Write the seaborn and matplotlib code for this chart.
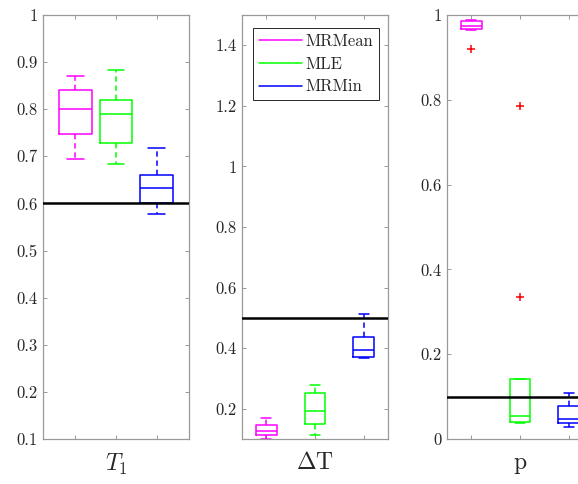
import matplotlib.pyplot as plt
from matplotlib.lines import Line2D
import seaborn as sns

sns.set_style('white')
plt.rcParams['font.family'] = ['cmr10', 'DejaVu Serif']
plt.rcParams['mathtext.fontset'] = 'cm'
plt.rcParams['axes.unicode_minus'] = False
plt.rcParams['axes.formatter.use_mathtext'] = True

# methods and their colours
methods = ['MRMean', 'MLE', 'MRMin']
colors = ['#ff00ff', '#00ff00', '#0000ff']

# T1 panel: five-number summaries
t1_lo = [0.695, 0.683, 0.577]
t1_q1 = [0.747, 0.729, 0.601]
t1_med = [0.800, 0.789, 0.633]
t1_q3 = [0.840, 0.820, 0.660]
t1_hi = [0.870, 0.883, 0.717]
t1_out = [[], [], []]
t1_true = 0.6

# Delta T panel
dt_lo = [0.099, 0.113, 0.366]
dt_q1 = [0.112, 0.150, 0.372]
dt_med = [0.128, 0.192, 0.394]
dt_q3 = [0.147, 0.252, 0.436]
dt_hi = [0.168, 0.279, 0.513]
dt_out = [[], [], []]
dt_true = 0.5

# p panel
p_lo = [0.964, 0.038, 0.029]
p_q1 = [0.966, 0.039, 0.037]
p_med = [0.975, 0.055, 0.047]
p_q3 = [0.987, 0.141, 0.078]
p_hi = [0.988, 0.141, 0.108]
p_out = [[0.920], [0.786, 0.334], []]
p_true = 0.1

panels = [
    dict(lo=t1_lo, q1=t1_q1, med=t1_med, q3=t1_q3, hi=t1_hi, out=t1_out, true=t1_true,
         label='$T_1$', ylim=(0.1, 1.0), xlim=(0.2, 3.8), width=0.8,
         yticks=[0.1, 0.2, 0.3, 0.4, 0.5, 0.6, 0.7, 0.8, 0.9, 1.0],
         yticklabels=['0.1', '0.2', '0.3', '0.4', '0.5', '0.6', '0.7', '0.8', '0.9', '1']),
    dict(lo=dt_lo, q1=dt_q1, med=dt_med, q3=dt_q3, hi=dt_hi, out=dt_out, true=dt_true,
         label=r'$\Delta$T', ylim=(0.1, 1.5), xlim=(0.5, 3.5), width=0.42,
         yticks=[0.2, 0.4, 0.6, 0.8, 1.0, 1.2, 1.4],
         yticklabels=['0.2', '0.4', '0.6', '0.8', '1', '1.2', '1.4']),
    dict(lo=p_lo, q1=p_q1, med=p_med, q3=p_q3, hi=p_hi, out=p_out, true=p_true,
         label='p', ylim=(0.0, 1.0), xlim=(0.5, 3.5), width=0.42,
         yticks=[0, 0.2, 0.4, 0.6, 0.8, 1.0],
         yticklabels=['0', '0.2', '0.4', '0.6', '0.8', '1']),
]

fig = plt.figure(figsize=(5.78, 4.84), dpi=100)
lefts = [0.0744, 0.4187, 0.7734]
axes = [fig.add_axes([l, 0.093, 0.2526, 0.876]) for l in lefts]

for ax, pn in zip(axes, panels):
    for i in range(3):
        st = [dict(whislo=pn['lo'][i], q1=pn['q1'][i], med=pn['med'][i], q3=pn['q3'][i],
                   whishi=pn['hi'][i], fliers=pn['out'][i])]
        c = colors[i]
        ax.bxp(st, positions=[i + 1], widths=pn['width'], capwidths=pn['width'] / 2,
               showfliers=True,
               boxprops=dict(color=c, lw=1.1),
               medianprops=dict(color=c, lw=1.1),
               whiskerprops=dict(color=c, lw=1.1, linestyle=(0, (3.5, 2.5))),
               capprops=dict(color=c, lw=1.1),
               flierprops=dict(marker='+', markeredgecolor='red', markersize=6,
                               markeredgewidth=1.1, linestyle='none'))
    ax.axhline(pn['true'], color='black', lw=1.8, zorder=5)
    ax.set_xlim(pn['xlim'])
    ax.set_ylim(pn['ylim'])
    ax.set_xticks([1, 2, 3])
    ax.set_xticklabels(['', '', ''])
    ax.set_yticks(pn['yticks'])
    ax.set_yticklabels(pn['yticklabels'])
    ax.set_xlabel(pn['label'], fontsize=17, labelpad=5)
    ax.tick_params(direction='in', length=3, width=0.7, color='#999999',
                   labelcolor='#262626', labelsize=12, top=True, right=True,
                   bottom=True, left=True, pad=4)
    for s in ax.spines.values():
        s.set_visible(True)
        s.set_color('#999999')
        s.set_linewidth(0.9)

handles = [Line2D([0], [0], color=c, lw=1.1) for c in colors]
leg = axes[1].legend(handles, methods, loc='upper right', bbox_to_anchor=(0.94, 0.97),
                     fontsize=12, frameon=True, fancybox=False, framealpha=1,
                     edgecolor='#262626', handlelength=2.6, handletextpad=0.2,
                     borderpad=0.35, labelspacing=0.45, borderaxespad=0)
leg.get_frame().set_linewidth(0.7)

fig.savefig('out.png', dpi=100)
